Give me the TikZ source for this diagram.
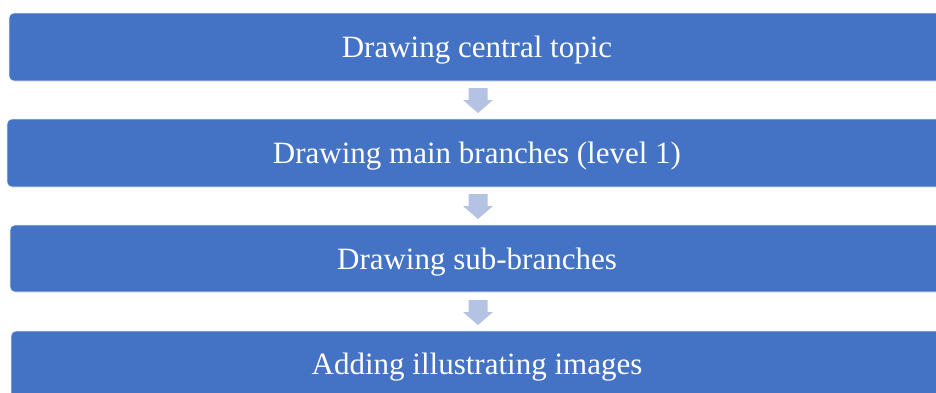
\documentclass[tikz,border=0pt]{standalone}
\usepackage{fontspec}
\setmainfont{Liberation Serif}
\usetikzlibrary{shapes.arrows}
\definecolor{stepblue}{RGB}{68,114,196}
\definecolor{arrowblue}{RGB}{180,194,227}
\tikzset{
  stepbox/.style={fill=stepblue, draw=white!85!stepblue, line width=0.6pt, rounded corners=5pt},
  steptext/.style={text=white, font=\fontsize{31}{36}\selectfont, anchor=base, inner sep=0pt},
  downarrow/.style={fill=arrowblue, draw=none}
}
\begin{document}
\begin{tikzpicture}[x=1pt, y=-1pt]
\useasboundingbox (0,0) rectangle (936,392);
% step boxes, running off the right edge
\draw[stepbox] (9,13) rectangle (960,81);
\draw[stepbox] (7,119) rectangle (960,187);
\draw[stepbox] (10,225) rectangle (960,292);
\draw[stepbox] (11,331) rectangle (960,410);
% labels, placed on their baselines
\node[steptext] (s1) at (477,57) {Drawing central topic};
\node[steptext] (s2) at (477,163) {Drawing main branches (level 1)};
\node[steptext] (s3) at (477,269) {Drawing sub-branches};
\node[steptext] (s4) at (477,374) {Adding illustrating images};
% block arrows between boxes
\foreach \t in {88,194,300}{
  \fill[downarrow] (468.5,\t) -- (487.5,\t) -- (487.5,\t+12) -- (493,\t+12)
     -- (478,\t+25) -- (463,\t+12) -- (468.5,\t+12) -- cycle;
}
\end{tikzpicture}
\end{document}
